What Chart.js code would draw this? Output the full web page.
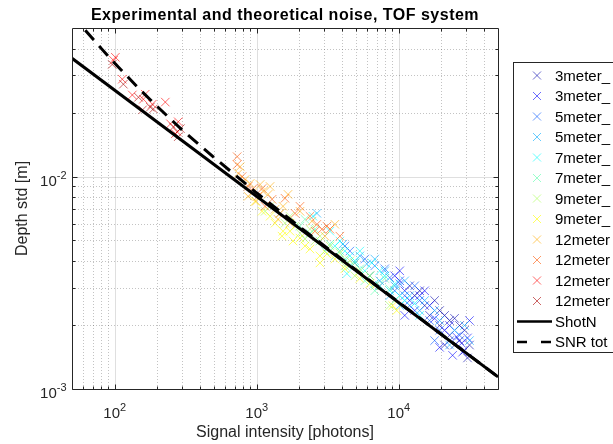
<!DOCTYPE html>
<html lang="en">
<head>
<meta charset="UTF-8">
<title>Experimental and theoretical noise, TOF system</title>
<script src="https://cdn.jsdelivr.net/npm/chart.js"></script>
<style>
    html, body { margin: 0; padding: 0; background: #fff; }
    #wrap { width: 613px; height: 444px; overflow: hidden; }
</style>
</head>
<body>
<div id="wrap"><canvas id="noiseChart" width="613" height="444"></canvas></div>
<script>
// measured points, [signal intensity (photons), depth std (m)]
const g3m1 = [[11940,0.00306],[12950,0.00275],[14040,0.00290],[15220,0.00247],[17890,0.00261],[19400,0.00234],[21030,0.00222],[22800,0.00210],[24720,0.00215],[26800,0.00199],[29060,0.00189],[26800,0.00169],[24720,0.00161],[29060,0.00152],[31500,0.00161],[22800,0.00179],[19400,0.00199],[16500,0.00222],[21030,0.00161],[30500,0.00140]];
const g3m2 = [[9371,0.00341],[10160,0.00323],[11020,0.00290],[11940,0.00261],[12950,0.00234],[14040,0.00275],[16500,0.00247],[17890,0.00215],[19400,0.00157],[22800,0.00199],[23940,0.00144],[25530,0.00176],[27680,0.00164],[28130,0.00149],[30500,0.00174],[31500,0.00210],[11020,0.00222],[10160,0.00360],[15220,0.00290],[21030,0.00189]];
const g5m1 = [[4527,0.00446],[4908,0.00392],[5769,0.00409],[6781,0.00380],[7971,0.00368],[8643,0.00334],[9371,0.00290],[10160,0.00313],[11020,0.00275],[11940,0.00247],[14040,0.00261],[16500,0.00210],[19400,0.00189],[22800,0.00169],[26800,0.00179],[7352,0.00306],[6255,0.00341],[12950,0.00306],[4175,0.00471],[17890,0.00169]];
const g5m2 = [[2654,0.00671],[4040,0.00481],[5321,0.00423],[5958,0.00388],[6781,0.00409],[7971,0.00360],[9371,0.00306],[11020,0.00323],[11940,0.00275],[14040,0.00234],[15220,0.00261],[19400,0.00210],[24720,0.00189],[29060,0.00199],[31500,0.00169],[17890,0.00234],[8643,0.00275],[7352,0.00323],[10160,0.00247],[22800,0.00161]];
const g7m1 = [[2488,0.00650],[3275,0.00553],[3851,0.00497],[4312,0.00349],[4908,0.00401],[5321,0.00446],[6460,0.00392],[7971,0.00341],[9371,0.00313],[10160,0.00275],[11020,0.00261],[12950,0.00253],[5769,0.00360],[6781,0.00313],[8643,0.00290],[4527,0.00423],[7352,0.00360],[14040,0.00222],[3551,0.00471],[4175,0.00446]];
const g7m2 = [[2016,0.00584],[2370,0.00541],[2786,0.00497],[3275,0.00481],[3851,0.00446],[4175,0.00409],[4908,0.00392],[5321,0.00368],[6255,0.00341],[7352,0.00306],[8643,0.00296],[9371,0.00261],[3021,0.00446],[3551,0.00423],[4527,0.00380],[5769,0.00323],[2186,0.00629],[7971,0.00331],[2570,0.00565],[6781,0.00290]];
const g9m1 = [[1241,0.00724],[1459,0.00671],[1581,0.00603],[1714,0.00650],[1860,0.00584],[2016,0.00541],[2186,0.00508],[2570,0.00497],[2786,0.00524],[3275,0.00471],[3851,0.00437],[4527,0.00401],[5321,0.00360],[6255,0.00341],[6781,0.00306],[1145,0.00686],[2370,0.00565],[4175,0.00380],[4908,0.00341],[8643,0.00247]];
const g9m2 = [[973,0.00764],[1090,0.00686],[1241,0.00650],[1345,0.00603],[1531,0.00553],[1507,0.00524],[1714,0.00553],[1800,0.00497],[2016,0.00513],[2186,0.00471],[2370,0.00456],[2786,0.00423],[3120,0.00432],[2786,0.00392],[3551,0.00409],[4175,0.00368],[5321,0.00331],[6255,0.00313],[9070,0.00247],[9680,0.00234]];
const g12m1 = [[740,0.01033],[764,0.01113],[828,0.00968],[898,0.00927],[927,0.00833],[989,0.00764],[1056,0.00917],[1108,0.00851],[1202,0.00824],[1241,0.00898],[1345,0.00701],[1412,0.00629],[1531,0.00724],[1660,0.00824],[1714,0.00603],[2016,0.00686],[2448,0.00616],[3551,0.00596],[3021,0.00524],[869,0.00807]];
const g12m2 = [[728,0.01240],[728,0.01137],[789,0.01000],[869,0.00898],[942,0.00878],[1021,0.00807],[1090,0.00878],[1145,0.00724],[1282,0.00781],[1459,0.00671],[1581,0.00790],[1860,0.00671],[2016,0.00724],[2370,0.00650],[2654,0.00596],[2877,0.00565],[3120,0.00584],[2570,0.00553],[3275,0.00565],[3851,0.00524]];
const g12m3 = [[98,0.0352],[101,0.0364],[113,0.0287],[133,0.0242],[164,0.0244],[159,0.0231],[184,0.0219],[227,0.0224],[247,0.0177],[280,0.0181],[267,0.0159],[276,0.0162]];
const g12m4 = [[96,0.0337],[115,0.0272],[147,0.0236],[178,0.0212],[187,0.0208],[157,0.0206],[259,0.0171],[290,0.0168],[280,0.0154]];

const seriesData = [g3m1, g3m2, g5m1, g5m2, g7m1, g7m2, g9m1, g9m2, g12m1, g12m2, g12m3, g12m4];
const seriesLabels = ['3meter_', '3meter_', '5meter_', '5meter_', '7meter_', '7meter_', '9meter_', '9meter_', '12meter', '12meter', '12meter', '12meter'];
// jet(12)
const seriesColors = ['rgba(0,0,170,0.58)', 'rgba(0,0,255,0.58)', 'rgba(0,85,255,0.6)', 'rgba(0,170,255,0.6)',
    'rgba(0,255,255,0.6)', 'rgba(85,255,170,0.6)', 'rgba(170,255,85,0.6)', 'rgba(255,255,0,0.62)',
    'rgba(255,170,0,0.6)', 'rgba(255,85,0,0.6)', 'rgba(255,0,0,0.6)', 'rgba(170,0,0,0.6)'];

// theoretical curves
const shotNX = [50, 50000];
const shotNY = [0.0360, 0.00114];
const snrTotX = [62, 80, 100, 150, 200, 300, 500, 1000, 2000, 5000, 10000, 50000];
const snrTotY = [0.0488, 0.0402, 0.0341, 0.0257, 0.0213, 0.0165, 0.0123, 0.00836, 0.00580, 0.00363, 0.00256, 0.00114];

// axes
const xMajorTicks = [100, 1000, 10000];
const xMajorExp = ['2', '3', '4'];
const xMinorTicks = [60, 70, 80, 90, 200, 300, 400, 500, 600, 700, 800, 900,
    2000, 3000, 4000, 5000, 6000, 7000, 8000, 9000, 20000, 30000, 40000];
const yMajorTicks = [0.001, 0.01];
const yMajorExp = ['-3', '-2'];
const yMinorTicks = [0.002, 0.003, 0.004, 0.005, 0.006, 0.007, 0.008, 0.009, 0.02, 0.03, 0.04];

const FONT = '"Liberation Sans", Arial, Helvetica, sans-serif';
const AXIS_COLOR = '#262626';

const toXY = (xs, ys) => xs.map((x, i) => ({ x: x, y: ys[i] }));

const datasets = seriesData.map((pts, i) => ({
    label: seriesLabels[i],
    data: pts.map(p => ({ x: p[0], y: p[1] })),
    pointStyle: 'crossRot',
    pointRadius: 6,
    pointHoverRadius: 6,
    pointBorderWidth: 1,
    borderColor: seriesColors[i],
    backgroundColor: seriesColors[i],
    showLine: false,
    order: 20 - i,
}));
datasets.push({
    label: 'ShotN',
    data: toXY(shotNX, shotNY),
    showLine: true,
    borderColor: '#000',
    borderWidth: 3,
    pointRadius: 0,
    pointHoverRadius: 0,
    order: 1,
});
datasets.push({
    label: 'SNR tot',
    data: toXY(snrTotX, snrTotY),
    showLine: true,
    borderColor: '#000',
    borderWidth: 3,
    borderDash: [13, 8],
    pointRadius: 0,
    pointHoverRadius: 0,
    order: 0,
});

function drawExpLabel(ctx, base, exp, x, y, align) {
    ctx.font = '15px ' + FONT;
    const wb = ctx.measureText(base).width;
    ctx.font = '11px ' + FONT;
    const we = ctx.measureText(exp).width;
    let x0 = align === 'center' ? x - (wb + we) / 2 : x - wb - we;
    ctx.textAlign = 'left';
    ctx.textBaseline = 'alphabetic';
    ctx.font = '15px ' + FONT;
    ctx.fillText(base, x0, y);
    ctx.font = '11px ' + FONT;
    ctx.fillText(exp, x0 + wb, y - 7);
}

// MATLAB-like axes: grid, inward ticks, box, labels, legend
const matlabAxes = {
    id: 'matlabAxes',
    beforeDatasetsDraw(chart) {
        const { ctx, chartArea: a, scales: { x, y } } = chart;
        ctx.save();
        ctx.lineWidth = 1;
        ctx.strokeStyle = 'rgba(38,38,38,0.28)';
        ctx.setLineDash([1, 2]);
        xMinorTicks.forEach(v => {
            const px = Math.round(x.getPixelForValue(v)) + 0.5;
            ctx.beginPath(); ctx.moveTo(px, a.top); ctx.lineTo(px, a.bottom); ctx.stroke();
        });
        yMinorTicks.forEach(v => {
            const py = Math.round(y.getPixelForValue(v)) + 0.5;
            ctx.beginPath(); ctx.moveTo(a.left, py); ctx.lineTo(a.right, py); ctx.stroke();
        });
        ctx.setLineDash([]);
        ctx.strokeStyle = 'rgba(38,38,38,0.15)';
        xMajorTicks.forEach(v => {
            const px = Math.round(x.getPixelForValue(v)) + 0.5;
            ctx.beginPath(); ctx.moveTo(px, a.top); ctx.lineTo(px, a.bottom); ctx.stroke();
        });
        yMajorTicks.forEach(v => {
            const py = Math.round(y.getPixelForValue(v)) + 0.5;
            ctx.beginPath(); ctx.moveTo(a.left, py); ctx.lineTo(a.right, py); ctx.stroke();
        });
        ctx.restore();
    },
    afterDraw(chart) {
        const { ctx, chartArea: a, scales: { x, y } } = chart;
        const L = Math.round(a.left) + 0.5, R = Math.round(a.right) + 0.5;
        const T = Math.round(a.top) + 0.5, B = Math.round(a.bottom) + 0.5;
        ctx.save();
        ctx.strokeStyle = AXIS_COLOR;
        ctx.lineWidth = 1;
        ctx.beginPath();
        const tick = (v, len, isX) => {
            if (isX) {
                const px = Math.round(x.getPixelForValue(v)) + 0.5;
                ctx.moveTo(px, B); ctx.lineTo(px, B - len);
                ctx.moveTo(px, T); ctx.lineTo(px, T + len);
            } else {
                const py = Math.round(y.getPixelForValue(v)) + 0.5;
                ctx.moveTo(L, py); ctx.lineTo(L + len, py);
                ctx.moveTo(R, py); ctx.lineTo(R - len, py);
            }
        };
        xMajorTicks.forEach(v => tick(v, 5, true));
        xMinorTicks.forEach(v => tick(v, 3, true));
        yMajorTicks.forEach(v => tick(v, 5, false));
        yMinorTicks.forEach(v => tick(v, 3, false));
        ctx.rect(L, T, R - L, B - T);
        ctx.stroke();

        // tick labels
        ctx.fillStyle = AXIS_COLOR;
        xMajorTicks.forEach((v, i) => drawExpLabel(ctx, '10', xMajorExp[i], x.getPixelForValue(v), B + 28, 'center'));
        yMajorTicks.forEach((v, i) => drawExpLabel(ctx, '10', yMajorExp[i], L - 6, y.getPixelForValue(v) + 9, 'right'));

        // axis titles
        ctx.font = '16px ' + FONT;
        ctx.textAlign = 'center';
        ctx.textBaseline = 'alphabetic';
        ctx.fillText('Signal intensity [photons]', (a.left + a.right) / 2, 437);
        ctx.save();
        ctx.translate(26.5, (a.top + a.bottom) / 2);
        ctx.rotate(-Math.PI / 2);
        ctx.fillText('Depth std [m]', 0, 0);
        ctx.restore();

        // title
        ctx.fillStyle = '#000';
        ctx.font = 'bold 16px ' + FONT;
        ctx.letterSpacing = '0.5px';
        ctx.fillText('Experimental and theoretical noise, TOF system', (a.left + a.right) / 2, 20);
        ctx.letterSpacing = '0px';

        // legend
        const bx = 513.5, by = 62.5, bw = 130, bh = 290;
        ctx.fillStyle = '#fff';
        ctx.fillRect(bx, by, bw, bh);
        ctx.strokeStyle = AXIS_COLOR;
        ctx.lineWidth = 1;
        ctx.strokeRect(bx, by, bw, bh);
        ctx.font = '15px ' + FONT;
        ctx.textAlign = 'left';
        ctx.textBaseline = 'middle';
        chart.data.datasets.forEach((ds, i) => {
            const ry = 75.5 + i * 20.5;
            if (ds.showLine) {
                ctx.strokeStyle = '#000';
                ctx.lineWidth = 2.5;
                ctx.setLineDash(ds.borderDash ? [10, 14] : []);
                ctx.beginPath(); ctx.moveTo(517, ry); ctx.lineTo(552, ry); ctx.stroke();
                ctx.setLineDash([]);
            } else {
                ctx.strokeStyle = ds.borderColor;
                ctx.lineWidth = 1;
                ctx.beginPath();
                ctx.moveTo(533, ry - 4); ctx.lineTo(541, ry + 4);
                ctx.moveTo(533, ry + 4); ctx.lineTo(541, ry - 4);
                ctx.stroke();
            }
            ctx.fillStyle = '#000';
            ctx.fillText(ds.label, 555, ry + 1);
        });
        ctx.restore();
    }
};

new Chart(document.getElementById('noiseChart'), {
    type: 'scatter',
    data: { datasets: datasets },
    options: {
        responsive: false,
        animation: false,
        layout: { padding: { top: 28, right: 115, left: 0, bottom: 0 } },
        plugins: {
            legend: { display: false },
            title: { display: false },
            tooltip: { enabled: false },
        },
        scales: {
            x: {
                type: 'logarithmic',
                min: 50,
                max: 50000,
                grid: { display: false },
                border: { display: false },
                ticks: { display: false },
                afterFit: (s) => { s.height = 55; },
            },
            y: {
                type: 'logarithmic',
                min: 0.001,
                max: 0.05,
                grid: { display: false },
                border: { display: false },
                ticks: { display: false },
                afterFit: (s) => { s.width = 72; },
            },
        },
    },
    plugins: [matlabAxes],
});
</script>
</body>
</html>
